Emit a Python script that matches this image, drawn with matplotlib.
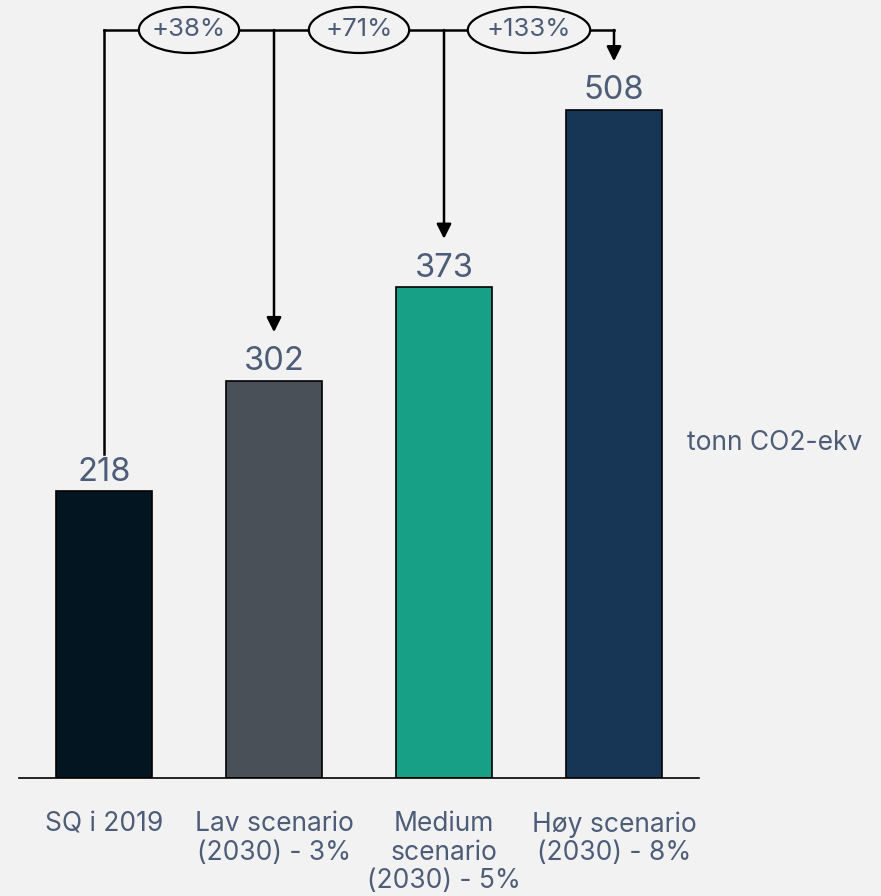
import matplotlib.pyplot as plt
from matplotlib.patches import Ellipse, FancyArrowPatch

# data
categories = ['SQ i 2019', 'Lav scenario\n(2030) - 3%', 'Medium\nscenario\n(2030) - 5%', 'Høy scenario\n(2030) - 8%']
values = [218, 302, 373, 508]
changes = ['+38%', '+71%', '+133%']
unit_label = 'tonn CO2-ekv'

bar_colors = ['#021520', '#4a5058', '#18a086', '#173656']
text_color = '#4e5d77'
bg = '#f2f2f2'

plt.rcParams['font.family'] = ['Inter', 'DejaVu Sans']

fig = plt.figure(figsize=(8.81, 8.96), dpi=100, facecolor=bg)
ax = fig.add_axes([19 / 881, 118 / 896, 680 / 881, 778 / 896])
ax.set_facecolor(bg)

x = list(range(len(values)))
ax.bar(x, values, width=0.56, color=bar_colors, edgecolor='black', linewidth=1.2, zorder=2)

for xi, v in zip(x, values):
    ax.annotate(str(v), (xi, v), xytext=(0, 2.5), textcoords='offset points',
                ha='center', va='bottom', fontsize=23.5, color=text_color)

ax.set_xlim(-0.5, 3.5)
ax.set_ylim(0, 591.6)

# connector line on top
top_y = 568.8
ax.plot([0, 3], [top_y, top_y], color='black', lw=1.8, zorder=3)
ax.plot([0, 0], [values[0] + 28, top_y], color='black', lw=1.8, zorder=3)
for xi, v in zip(x[1:], values[1:]):
    arr = FancyArrowPatch((xi, top_y), (xi, v + 37), arrowstyle='-|>', mutation_scale=22,
                          color='black', lw=1.8, shrinkA=0, shrinkB=0, zorder=3)
    ax.add_patch(arr)

for i, lab in enumerate(changes):
    w = 0.59 if len(lab) < 5 else 0.72
    ax.add_patch(Ellipse((i + 0.5, top_y), w, 35, facecolor=bg, edgecolor='black', lw=1.6, zorder=4))
    ax.text(i + 0.5, top_y, lab, ha='center', va='center', fontsize=18.5, color=text_color, zorder=5)

ax.set_xticks(x)
ax.set_xticklabels(categories, fontsize=19, color=text_color, linespacing=1.12)
ax.tick_params(axis='x', length=0, pad=24)
ax.set_yticks([])
for s in ['top', 'right', 'left']:
    ax.spines[s].set_visible(False)
ax.spines['bottom'].set_linewidth(1.2)

fig.text(775 / 881, 1 - 443 / 896, unit_label, ha='center', va='center', fontsize=19, color=text_color)

fig.savefig('out.png', dpi=100, facecolor=bg)
